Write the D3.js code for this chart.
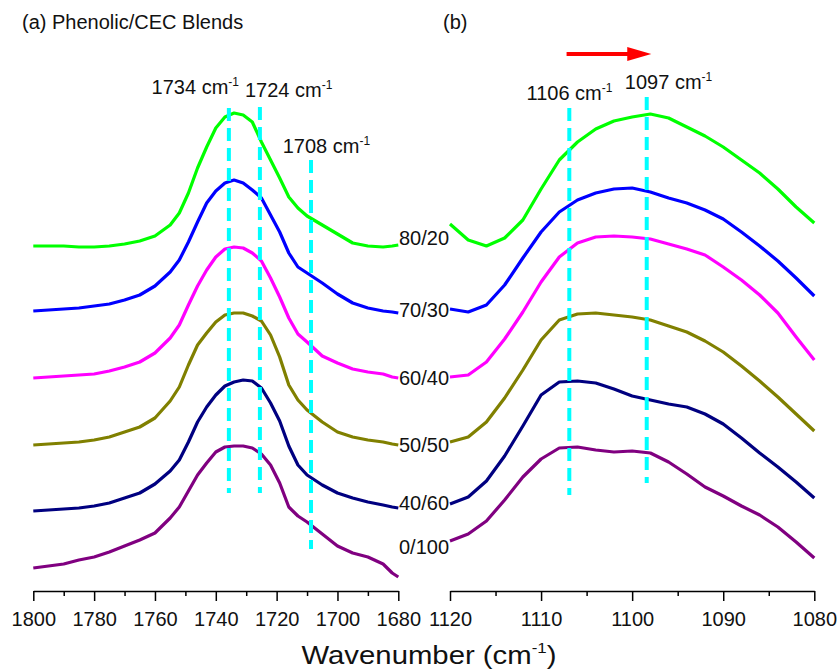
<!DOCTYPE html>
<html>
<head>
<meta charset="utf-8">
<script src="https://cdn.jsdelivr.net/npm/d3@7"></script>
<style>
  body { margin: 0; background: #fff; }
  svg text { font-family: "Liberation Sans", Arial, sans-serif; fill: #111; }
</style>
</head>
<body>
<script>
// Blend ratios (Phenolic/CEC), top to bottom
const blends = ['80/20', '70/30', '60/40', '50/50', '40/60', '0/100'];
const colors = ['#00ff00', '#0000ff', '#ff00ff', '#808000', '#000080', '#800080'];

// (a) carbonyl region, wavenumber in cm-1
const waveA = [1800, 1795, 1790, 1785, 1780, 1775, 1770, 1765, 1760, 1755, 1752, 1749, 1746, 1743, 1740, 1737,
  1734, 1731, 1728, 1725, 1722, 1719, 1716, 1713, 1710, 1705, 1700, 1695, 1690, 1685, 1682, 1680];

// offset absorbance (a.u.)
const absA_8020 = [3.54, 3.54, 3.54, 3.53, 3.53, 3.54, 3.56, 3.59, 3.64, 3.75, 3.87, 4.07, 4.32, 4.53, 4.72, 4.83,
  4.87, 4.85, 4.78, 4.58, 4.40, 4.22, 4.03, 3.92, 3.84, 3.75, 3.66, 3.57, 3.54, 3.53, 3.54, 3.55];
const absA_7030 = [2.89, 2.90, 2.91, 2.92, 2.94, 2.96, 3.00, 3.05, 3.14, 3.28, 3.40, 3.58, 3.78, 3.97, 4.09, 4.17,
  4.20, 4.17, 4.10, 4.02, 3.85, 3.68, 3.47, 3.33, 3.27, 3.17, 3.06, 2.97, 2.92, 2.89, 2.88, 2.87];
const absA_6040 = [2.22, 2.23, 2.24, 2.25, 2.26, 2.29, 2.33, 2.38, 2.47, 2.62, 2.75, 2.95, 3.14, 3.30, 3.43, 3.51,
  3.53, 3.52, 3.47, 3.39, 3.22, 3.03, 2.82, 2.66, 2.58, 2.44, 2.37, 2.31, 2.28, 2.26, 2.23, 2.22];
const absA_5050 = [1.55, 1.56, 1.57, 1.58, 1.60, 1.63, 1.68, 1.73, 1.82, 1.99, 2.13, 2.35, 2.55, 2.67, 2.78, 2.85,
  2.87, 2.87, 2.84, 2.79, 2.65, 2.43, 2.15, 2.00, 1.90, 1.78, 1.68, 1.63, 1.60, 1.58, 1.56, 1.55];
const absA_4060 = [0.89, 0.90, 0.91, 0.92, 0.94, 0.97, 1.02, 1.07, 1.16, 1.29, 1.40, 1.58, 1.78, 1.93, 2.05, 2.14,
  2.18, 2.20, 2.19, 2.12, 1.97, 1.79, 1.54, 1.35, 1.25, 1.15, 1.07, 1.02, 0.98, 0.95, 0.93, 0.92];
const absA_0100 = [0.32, 0.34, 0.36, 0.40, 0.43, 0.48, 0.54, 0.60, 0.67, 0.82, 0.93, 1.09, 1.25, 1.37, 1.48, 1.53,
  1.54, 1.54, 1.52, 1.46, 1.35, 1.17, 0.93, 0.84, 0.78, 0.66, 0.54, 0.47, 0.43, 0.36, 0.27, 0.23];

// (b) C-O-C region
const waveB = [1120, 1118, 1116, 1114, 1112, 1110, 1108, 1106, 1104, 1102, 1100, 1098, 1096, 1094, 1092, 1090,
  1088, 1086, 1084, 1082, 1080];
const absB_8020 = [3.76, 3.60, 3.54, 3.62, 3.80, 4.11, 4.40, 4.58, 4.71, 4.79, 4.83, 4.86, 4.82, 4.73, 4.64, 4.53,
  4.40, 4.27, 4.11, 3.93, 3.77];
const absB_7030 = [2.91, 2.88, 2.95, 3.15, 3.42, 3.68, 3.88, 4.00, 4.07, 4.11, 4.12, 4.08, 4.02, 3.97, 3.90, 3.81,
  3.68, 3.54, 3.39, 3.22, 3.04];
const absB_6040 = [2.23, 2.25, 2.38, 2.61, 2.88, 3.18, 3.43, 3.57, 3.63, 3.64, 3.63, 3.61, 3.56, 3.51, 3.45, 3.33,
  3.20, 3.05, 2.87, 2.63, 2.40];
const absB_5050 = [1.58, 1.63, 1.78, 2.02, 2.30, 2.60, 2.80, 2.86, 2.87, 2.85, 2.83, 2.80, 2.74, 2.68, 2.59, 2.48,
  2.34, 2.19, 2.03, 1.86, 1.69];
const absB_4060 = [0.96, 1.03, 1.19, 1.44, 1.74, 2.05, 2.18, 2.19, 2.17, 2.11, 2.04, 2.00, 1.96, 1.93, 1.86, 1.76,
  1.62, 1.47, 1.33, 1.18, 1.02];
const absB_0100 = [0.59, 0.66, 0.79, 1.00, 1.23, 1.41, 1.52, 1.53, 1.50, 1.48, 1.49, 1.47, 1.38, 1.26, 1.13, 1.04,
  0.94, 0.85, 0.73, 0.58, 0.42];

const seriesA = [absA_8020, absA_7030, absA_6040, absA_5050, absA_4060, absA_0100];
const seriesB = [absB_8020, absB_7030, absB_6040, absB_5050, absB_4060, absB_0100];
const blendLabelLevel = [3.55, 2.83, 2.15, 1.48, 0.90, 0.46];

// peak markers: [label, wavenumber, top, bottom, labelWave, labelLevel]
const peaksA = [
  ['1734', 1735.7, 4.92, 1.07, 1761.1, 5.06],
  ['1724', 1725.5, 4.93, 1.07, 1730.4, 5.03],
  ['1708', 1708.7, 4.40, 0.51, 1718.0, 4.47]
];
const peaksB = [
  ['1106', 1106.9, 4.92, 1.05, 1111.6, 5.00],
  ['1097', 1098.4, 5.03, 1.17, 1100.8, 5.11]
];
const shiftArrow = [1107.2, 1097.9, 5.46];

const W = 839, H = 672;
const axisY = 591;

const svg = d3.select('body').append('svg').attr('width', W).attr('height', H);

const xA = d3.scaleLinear().domain([1800, 1680]).range([33.3, 398.3]);
const xB = d3.scaleLinear().domain([1120, 1080]).range([450, 814.3]);
const y = d3.scaleLinear().domain([0, 5]).range([600, 100]);

function drawPanel(x, wave, series, peaks, major, minor) {
  const g = svg.append('g');
  series.forEach((vals, i) => {
    const line = d3.line().x((d, j) => x(wave[j])).y((d) => y(d));
    g.append('path')
      .datum(vals)
      .attr('d', line)
      .attr('fill', 'none')
      .attr('stroke', colors[i])
      .attr('stroke-width', 3.2)
      .attr('stroke-linejoin', 'round');
  });

  peaks.forEach((p) => {
    g.append('line')
      .attr('x1', x(p[1])).attr('x2', x(p[1]))
      .attr('y1', y(p[2])).attr('y2', y(p[3]))
      .attr('stroke', '#00ffff')
      .attr('stroke-width', 4)
      .attr('stroke-dasharray', '13,7');
    const t = g.append('text')
      .attr('x', x(p[4]))
      .attr('y', y(p[5]))
      .attr('font-size', 20);
    t.append('tspan').text(p[0] + ' cm');
    t.append('tspan').attr('font-size', 12).attr('dy', -8).text('-1');
  });

  // minor ticks
  svg.append('g')
    .attr('transform', `translate(0,${axisY})`)
    .call(d3.axisBottom(x).tickValues(minor).tickSize(5).tickSizeOuter(0).tickFormat(''))
    .call((a) => a.select('.domain').remove())
    .selectAll('line').attr('stroke', '#000').attr('stroke-width', 1.5);

  const ax = svg.append('g')
    .attr('transform', `translate(0,${axisY})`)
    .call(d3.axisBottom(x).tickValues(major).tickSize(10).tickSizeOuter(0).tickPadding(11).tickFormat(d3.format('d')));
  ax.select('.domain').attr('stroke', '#000').attr('stroke-width', 1.5);
  ax.selectAll('.tick line').attr('stroke', '#000').attr('stroke-width', 1.5);
  ax.selectAll('.tick text')
    .attr('font-size', 20)
    .attr('font-family', '"Liberation Sans", Arial, sans-serif')
    .attr('fill', '#111');
}

drawPanel(xA, waveA, seriesA, peaksA,
  d3.range(1800, 1679, -20), d3.range(1790, 1680, -20));
drawPanel(xB, waveB, seriesB, peaksB,
  d3.range(1120, 1079, -10), d3.range(1115, 1080, -10));

// blend labels between the panels
svg.append('g')
  .selectAll('text')
  .data(blends)
  .join('text')
  .attr('x', 399)
  .attr('y', (d, i) => y(blendLabelLevel[i]))
  .attr('font-size', 20)
  .text((d) => d);

// red shift arrow
const ay = y(shiftArrow[2]);
const ax0 = xB(shiftArrow[0]), ax1 = xB(shiftArrow[1]);
svg.append('line')
  .attr('x1', ax0).attr('x2', ax1 - 20)
  .attr('y1', ay).attr('y2', ay)
  .attr('stroke', '#ff0000')
  .attr('stroke-width', 4);
svg.append('path')
  .attr('d', `M${ax1 - 24},${ay - 7}L${ax1},${ay}L${ax1 - 24},${ay + 7}Z`)
  .attr('fill', '#ff0000');

// panel titles
svg.append('text').attr('x', 22).attr('y', 29).attr('font-size', 20).text('(a) Phenolic/CEC Blends');
svg.append('text').attr('x', 443).attr('y', 29).attr('font-size', 20).text('(b)');

// x axis title
const xt = svg.append('text')
  .attr('x', 429)
  .attr('y', 664)
  .attr('text-anchor', 'middle')
  .attr('font-size', 26)
  .attr('textLength', 255)
  .attr('lengthAdjust', 'spacingAndGlyphs');
xt.append('tspan').text('Wavenumber (cm');
xt.append('tspan').attr('font-size', 15).attr('dy', -11).text('-1');
xt.append('tspan').attr('dy', 11).text(')');
</script>
</body>
</html>
